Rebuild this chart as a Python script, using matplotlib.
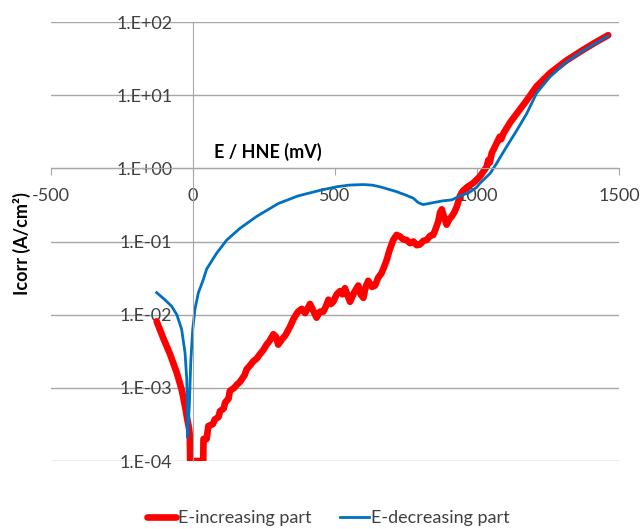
import numpy as np
import matplotlib.pyplot as plt
from matplotlib.ticker import FixedLocator, FuncFormatter, NullLocator

plt.rcParams['font.family'] = ['Lato', 'DejaVu Sans']

# potential (mV vs HNE) and corrosion current (A/cm2), forward scan
e_up = [-128, -105, -81, -57, -40, -28, -20, -14, -11, -10, 36, 37, 48, 54, 70,
        77, 90, 95, 108, 113, 125, 130, 145, 154, 165, 171, 182, 189, 200, 212,
        224, 236, 248, 259, 270, 283, 292, 300, 315, 325, 342, 355, 370, 383, 395,
        412, 425, 435, 447, 459, 468, 477, 486, 494, 506, 518, 526, 535, 545, 553,
        567, 582, 590, 600, 608, 617, 630, 641, 652, 664, 673, 682, 692, 705, 717,
        729, 740, 752, 764, 776, 788, 799, 811, 823, 835, 846, 855, 864, 870, 876,
        885, 893, 902, 911, 920, 929, 940, 952, 967, 987, 1011, 1034, 1040, 1045, 1052,
        1058, 1069, 1080, 1085, 1093, 1116, 1140, 1175, 1210, 1257, 1316, 1374, 1421, 1462]
i_up = [8.1e-3, 4.8e-3, 2.9e-3, 1.6e-3, 9.5e-4, 5.6e-4, 3.7e-4, 2.8e-4, 2.2e-4, 1.0e-4,
        1.0e-4, 2.0e-4, 2.0e-4, 3.0e-4, 3.2e-4, 3.7e-4, 4.0e-4, 4.8e-4, 5.2e-4, 6.3e-4,
        7.1e-4, 9.1e-4, 1.0e-3, 1.1e-3, 1.2e-3, 1.3e-3, 1.5e-3, 1.8e-3, 2.0e-3, 2.3e-3,
        2.5e-3, 2.9e-3, 3.3e-3, 3.9e-3, 4.4e-3, 5.4e-3, 5.0e-3, 3.9e-3, 4.7e-3, 5.2e-3,
        6.9e-3, 8.9e-3, 1.1e-2, 1.2e-2, 1.05e-2, 1.4e-2, 1.1e-2, 9.1e-3, 1.1e-2, 1.1e-2,
        1.3e-2, 1.6e-2, 1.4e-2, 1.5e-2, 1.9e-2, 2.1e-2, 1.9e-2, 2.3e-2, 1.8e-2, 1.5e-2,
        2.0e-2, 2.5e-2, 1.9e-2, 1.7e-2, 2.4e-2, 2.9e-2, 2.4e-2, 2.5e-2, 3.2e-2, 3.7e-2,
        4.5e-2, 5.6e-2, 7.6e-2, 0.105, 0.123, 0.117, 0.107, 0.105, 0.095, 0.100,
        0.089, 0.091, 0.102, 0.105, 0.120, 0.123, 0.151, 0.19, 0.25, 0.275,
        0.21, 0.17, 0.20, 0.22, 0.25, 0.30, 0.42, 0.50, 0.56, 0.63,
        0.78, 1.05, 1.3, 1.2, 1.62, 1.8, 2.2, 2.7, 2.5, 3.0,
        4.2, 5.6, 8.5, 13.2, 20.0, 30.0, 41.7, 53.7, 66.0]

# backward scan
e_down = [-128, -99, -75, -57, -40, -28, -22, -20, -19, -13, -8, -1, 7, 19, 25,
          36, 48, 83, 119, 165, 224, 300, 370, 447, 506, 550, 600, 630, 658, 694,
          717, 729, 750, 776, 793, 810, 830, 846, 881, 911, 940, 969, 999, 1011, 1046,
          1069, 1105, 1140, 1175, 1210, 1257, 1316, 1374, 1462]
i_down = [2.0e-2, 1.6e-2, 1.3e-2, 1.0e-2, 6.3e-3, 3.0e-3, 1.3e-3, 5.6e-4, 2.1e-4, 5.6e-4,
          2.2e-3, 6.3e-3, 1.2e-2, 2.0e-2, 2.3e-2, 3.0e-2, 4.2e-2, 6.9e-2, 0.105, 0.151,
          0.22, 0.33, 0.42, 0.50, 0.56, 0.59, 0.60, 0.59, 0.56, 0.51,
          0.48, 0.46, 0.43, 0.39, 0.34, 0.32, 0.33, 0.34, 0.36, 0.37,
          0.42, 0.46, 0.55, 0.63, 0.85, 1.17, 2.0, 3.3, 5.6, 10.7,
          17.8, 28.8, 40.7, 64.6]

x_ticks = [-500, 0, 500, 1000, 1500]
y_ticks = [1e-4, 1e-3, 1e-2, 1e-1, 1e0, 1e1, 1e2]

fig = plt.figure(figsize=(6.42, 5.29), dpi=100)
ax = fig.add_axes([51 / 642, 1 - 461 / 529, 568 / 642, 439 / 529])
ax.set_yscale('log')
ax.set_xlim(-500, 1500)
ax.set_ylim(1e-4, 1e2)

ax.plot(e_up, i_up, color='#FF0000', lw=4.8, solid_joinstyle='round',
        solid_capstyle='round', label='E-increasing part')
ax.plot(e_down, i_down, color='#0070C0', lw=2, label='E-decreasing part')

# Excel-style axes: y axis crossing at 0 mV, x axis crossing at 1 A/cm2
grey = '#A6A6A6'
ax.yaxis.grid(True, color=grey, lw=1)
ax.set_axisbelow(True)
for side in ['top', 'right']:
    ax.spines[side].set_visible(False)
ax.spines['left'].set_position(('data', 0))
ax.spines['bottom'].set_position(('data', 1))
ax.spines['left'].set_color(grey)
ax.spines['bottom'].set_color(grey)

ax.xaxis.set_major_locator(FixedLocator(x_ticks))
ax.xaxis.set_major_formatter(FuncFormatter(lambda v, p: str(int(v))))
ax.yaxis.set_major_locator(FixedLocator(y_ticks))
ax.yaxis.set_minor_locator(NullLocator())
ax.yaxis.set_major_formatter(FuncFormatter(lambda v, p: f"1.E{int(round(np.log10(v))):+03d}"))

ax.tick_params(axis='x', direction='out', length=5, color=grey, pad=9,
               labelsize=13, labelcolor='#404040')
ax.tick_params(axis='y', length=0, pad=15, labelsize=13, labelcolor='#404040')

ax.text(0.382, 0.704, 'E / HNE (mV)', transform=ax.transAxes, ha='center',
        va='center', fontsize=13, fontweight='bold')
fig.text(22 / 642, 1 - 244 / 529, 'Icorr (A/cm²)', rotation=90, ha='center',
         va='center', fontsize=13, fontweight='bold')

fig.legend(loc='center', bbox_to_anchor=(0.511, 0.02), ncol=2, frameon=False,
           fontsize=13, handlelength=1.6, handletextpad=0.1, columnspacing=1.6,
           labelcolor='#404040')

fig.savefig('out.png', dpi=100, facecolor='white')
